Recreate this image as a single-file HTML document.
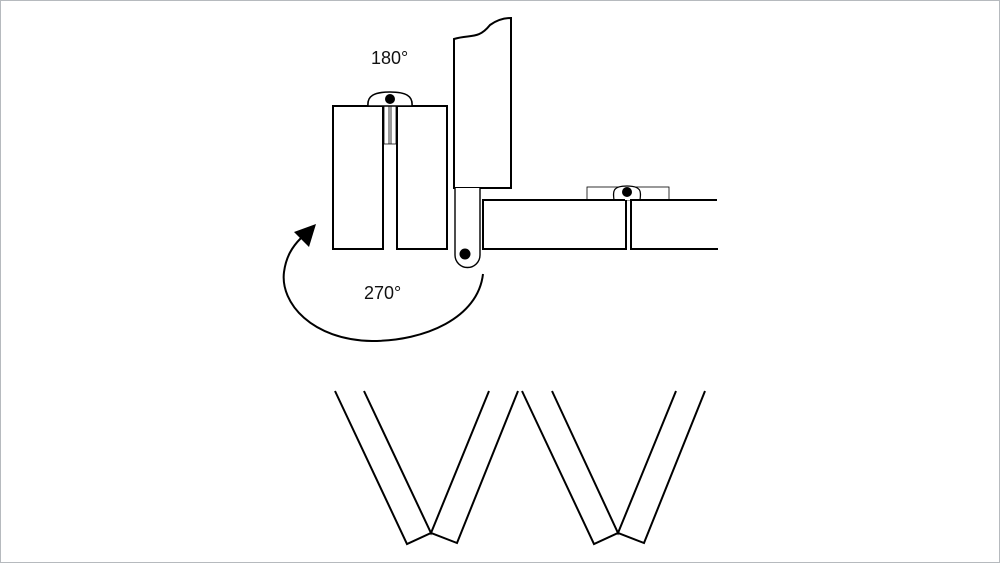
<!DOCTYPE html>
<html><head><style>
html,body{margin:0;padding:0;background:#fff;}
.f{position:absolute;left:0;top:0;width:998px;height:561px;border:1px solid #b6babe;}
</style></head><body>
<div class="f"></div>
<svg width="1000" height="563" style="position:absolute;left:0;top:0" xmlns="http://www.w3.org/2000/svg">
<g fill="none" stroke="#000" stroke-width="2" stroke-linejoin="miter">
<!-- left folded panels -->
<rect x="333" y="106" width="50" height="143" fill="#fff"/>
<rect x="397" y="106" width="50" height="143" fill="#fff"/>
<path d="M384,106V144H396V106 M389,106V144 M391,106V144" stroke-width="0.8"/>
<path d="M368,106 C367,96 374,92 390,92 C406,92 413,96 412,106Z" fill="#fff" stroke-width="1.6"/>
<!-- tall panel -->
<path d="M454,188V39 C470,34 478,40 490,25 C497,20 504,18 511,18 V188Z" fill="#fff"/>
<path d="M455,188V255 A12.5,12.5 0 0 0 480,255 V188" fill="#fff" stroke-width="1.4"/>
<!-- right panels -->
<rect x="587" y="187" width="82" height="13" fill="#fff" stroke-width="0.8"/>
<path d="M614,200 C613,192 612,186 627,186 C642,186 641,192 640,200" fill="#fff" stroke-width="1.2"/>
<path d="M625,200H483V249H626V200" fill="#fff"/>
<path d="M717,200H631V249H718"/>
<!-- arc -->
<path d="M483,274 C478,318 425,341 372,341 C312,340 280,303 284,272 C286,257 292,247 301,238"/>
<!-- W shapes -->
<path d="M335,391L407,544L431,533L457,543L518,391 M364,391L431,533L489,391"/>
<path d="M522,391L594,544L618,533L644,543L705,391 M552,391L618,533L676,391"/>
</g>
<polygon points="316,224 294,232 309,247" fill="#000"/>
<circle cx="390" cy="99" r="5" fill="#000"/>
<circle cx="465" cy="254" r="5.5" fill="#000"/>
<circle cx="627" cy="192" r="5" fill="#000"/>
<g font-family="Liberation Sans, sans-serif" font-size="18" fill="#111">
<text x="371" y="64">180°</text>
<text x="364" y="299">270°</text>
</g>
</svg>
</body></html>
